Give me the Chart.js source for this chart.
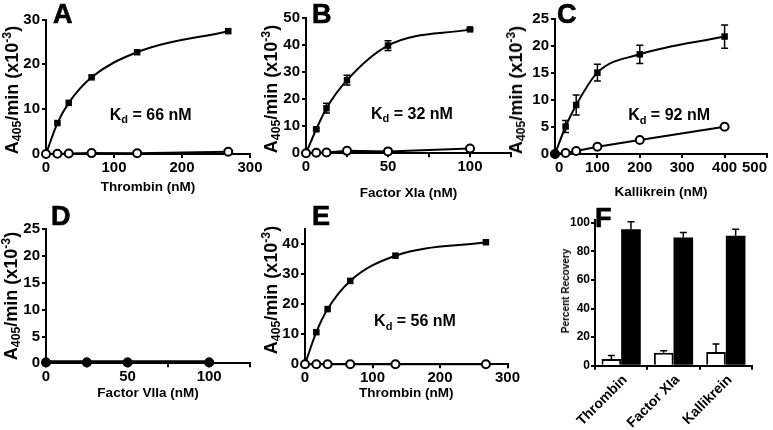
<!DOCTYPE html>
<html>
<head>
<meta charset="utf-8">
<script src="https://cdn.jsdelivr.net/npm/chart.js@4.4.1/dist/chart.umd.min.js"></script>
<style>
  body { margin: 0; background: #fff; }
  #fig { position: relative; width: 773px; height: 430px; background: #fff; overflow: hidden;
         font-family: 'Liberation Sans', Arial, sans-serif; font-weight: bold; color: #000; }
  #fig canvas { position: absolute; }
  .letter { position: absolute; font-size: 27px; line-height: 26px; -webkit-text-stroke: 0.7px #000; }
  .ytitle { position: absolute; font-size: 18px; white-space: nowrap;
            transform: translate(-50%, -50%) rotate(-90deg); line-height: 1; }
  .ytitle sub, .ytitle sup { font-size: 0.68em; }
  .ytitle sub { vertical-align: -0.25em; }
  .ytitle sup { vertical-align: 0.55em; }
</style>
</head>
<body>
<div id="fig">
  <canvas id="cA"></canvas>
  <canvas id="cB"></canvas>
  <canvas id="cC"></canvas>
  <canvas id="cD"></canvas>
  <canvas id="cE"></canvas>
  <canvas id="cF"></canvas>

  <div class="letter" style="left:53px;top:1px">A</div>
  <div class="letter" style="left:312px;top:1px">B</div>
  <div class="letter" style="left:557px;top:1px">C</div>
  <div class="letter" style="left:51px;top:203px">D</div>
  <div class="letter" style="left:312px;top:203px">E</div>
  <div class="letter" style="left:595px;top:205px">F</div>

  <div class="ytitle" style="left:12px;top:90px">A<sub>405</sub>/min (x10<sup>-3</sup>)</div>
  <div class="ytitle" style="left:271px;top:89px">A<sub>405</sub>/min (x10<sup>-3</sup>)</div>
  <div class="ytitle" style="left:516px;top:90px">A<sub>405</sub>/min (x10<sup>-3</sup>)</div>
  <div class="ytitle" style="left:11px;top:296px">A<sub>405</sub>/min (x10<sup>-3</sup>)</div>
  <div class="ytitle" style="left:271px;top:290px">A<sub>405</sub>/min (x10<sup>-3</sup>)</div>
  <div class="ytitle" style="left:566px;top:291px;font-size:10px">Percent Recovery</div>
</div>

<script>
// ---- data ----
// A: thrombin binding
const aConc = [0, 16.8, 33.5, 67, 134, 268];
const aBound = [0, 6.9, 11.4, 17.1, 22.7, 27.4];
const aControl = [0, 0.05, 0.1, 0.2, 0.15, 0.5];

// B: factor XIa binding
const bConc = [0, 6.25, 12.5, 25, 50, 100];
const bBound = [0, 8.9, 16.7, 27.1, 39.9, 45.9];
const bBoundErr = [0, 0.5, 1.8, 1.8, 1.8, 0.4];
const bControl = [0, 0.2, 0.3, 0.9, 0.7, 1.8];

// C: kallikrein binding
const cConc = [0, 25, 50, 100, 200, 400];
const cBound = [0, 5.1, 9.1, 15.1, 18.5, 21.8];
const cBoundErr = [0, 1.1, 1.85, 1.55, 1.7, 2.15];
const cControl = [0, 0.2, 0.55, 1.35, 2.6, 5.07];

// D: factor VIIa
const dConc = [0, 25, 50, 100];
const dBound = [0.3, 0.3, 0.3, 0.3];
const dControl = [0.15, 0.15, 0.15, 0.15];

// E: thrombin binding
const eConc = [0, 16.8, 33.5, 67, 134, 268];
const eBound = [0, 10.7, 18.4, 27.8, 36.2, 40.7];
const eControl = [0, 0, 0, 0, 0, 0];

// F: percent recovery
const fEnzymes = ['Thrombin', 'Factor XIa', 'Kallikrein'];
const fControl = [4.7, 9.1, 9.6];
const fControlErr = [2.5, 1.4, 5.6];
const fBound = [95.6, 89.8, 90.9];
const fBoundErr = [5.1, 3.5, 4.7];

Chart.defaults.font.family = "'Liberation Sans', Arial, sans-serif";
Chart.defaults.font.size = 15;
Chart.defaults.font.weight = 'bold';
Chart.defaults.color = '#000';

// error bars drawn through the y scale
const errorBars = {
  id: 'errorBars',
  afterDatasetsDraw(chart) {
    const ctx = chart.ctx;
    const ys = chart.scales.y;
    chart.data.datasets.forEach((ds, i) => {
      if (!ds.errors) return;
      const meta = chart.getDatasetMeta(i);
      ctx.save();
      ctx.strokeStyle = '#000';
      ctx.lineWidth = 1.5;
      meta.data.forEach((el, j) => {
        const e = ds.errors[j];
        if (!e) return;
        const d = ds.data[j];
        const v = typeof d === 'object' ? d.y : d;
        const top = ys.getPixelForValue(v + e);
        const bot = ds.upOnly ? ys.getPixelForValue(v) : ys.getPixelForValue(v - e);
        ctx.beginPath();
        ctx.moveTo(el.x, top); ctx.lineTo(el.x, bot);
        ctx.moveTo(el.x - 3.5, top); ctx.lineTo(el.x + 3.5, top);
        if (!ds.upOnly) { ctx.moveTo(el.x - 3.5, bot); ctx.lineTo(el.x + 3.5, bot); }
        ctx.stroke();
      });
      ctx.restore();
    });
  }
};

// "Kd = .. nM" label with subscript
const kdLabel = {
  id: 'kdLabel',
  afterDraw(chart, args, opts) {
    if (!opts.value) return;
    const ctx = chart.ctx;
    const px = chart.scales.x.getPixelForValue(opts.x);
    const py = chart.scales.y.getPixelForValue(opts.y);
    const big = "bold 16px 'Liberation Sans', Arial, sans-serif";
    const small = "bold 11px 'Liberation Sans', Arial, sans-serif";
    const rest = ' = ' + opts.value + ' nM';
    ctx.save();
    ctx.fillStyle = '#000';
    ctx.textBaseline = 'middle';
    ctx.textAlign = 'left';
    ctx.font = big;
    const wK = ctx.measureText('K').width;
    const wR = ctx.measureText(rest).width;
    ctx.font = small;
    const wd = ctx.measureText('d').width;
    let x = px - (wK + wd + wR) / 2;
    ctx.font = big;
    ctx.fillText('K', x, py);
    x += wK;
    ctx.font = small;
    ctx.fillText('d', x, py + 5);
    x += wd;
    ctx.font = big;
    ctx.fillText(rest, x, py);
    ctx.restore();
  }
};

function place(id, g) {
  const c = document.getElementById(id);
  c.width = g.w; c.height = g.h;
  c.style.left = g.left + 'px'; c.style.top = g.top + 'px';
  c.style.width = g.w + 'px'; c.style.height = g.h + 'px';
  return c;
}

function axisLook() {
  return {
    border: { display: true, color: '#000', width: 2 },
    grid: { drawOnChartArea: false, color: '#000', lineWidth: 2, tickLength: 4 }
  };
}

function linePanel(id, g, p) {
  const c = place(id, g);
  const lw = p.lineWidth || 2;
  const bound = {
    data: p.conc.map((x, i) => ({ x: x, y: p.bound[i] })),
    errors: p.boundErr,
    borderColor: '#000', backgroundColor: '#000', borderWidth: lw,
    pointStyle: p.boundStyle || 'rect', pointRadius: p.boundRadius || 4.6,
    pointBorderWidth: 0,
    cubicInterpolationMode: 'monotone', tension: 0.4,
    clip: false, order: p.boundOnTop ? 0 : 1
  };
  const control = {
    data: p.conc.map((x, i) => ({ x: x, y: p.control[i] })),
    borderColor: '#000', backgroundColor: '#fff', borderWidth: lw,
    pointStyle: 'circle', pointRadius: 4, pointBorderWidth: 2,
    tension: 0, clip: false, order: p.boundOnTop ? 1 : 0
  };
  new Chart(c, {
    type: 'line',
    data: { datasets: [bound, control] },
    options: {
      responsive: false, animation: false,
      layout: { padding: { top: g.padTop, right: g.padRight, left: 0, bottom: 0 } },
      plugins: { legend: { display: false }, tooltip: { enabled: false },
                 kdLabel: p.kd || {} },
      scales: {
        x: Object.assign(axisLook(), {
          type: 'linear', min: 0, max: p.xmax,
          ticks: { stepSize: p.xstep, autoSkip: false, maxRotation: 0, padding: 1,
                   align: p.xAlign || 'center',
                   callback: v => (p.xlabelEvery && v % p.xlabelEvery !== 0) ? '' : v },
          title: { display: true, text: p.xtitle, font: { size: 13.5, weight: 'bold' },
                   padding: 0 },
          afterFit: s => { s.height = g.xH; s.paddingLeft = 0; s.paddingRight = 0; }
        }),
        y: Object.assign(axisLook(), {
          type: 'linear', min: 0, max: p.ymax,
          ticks: { stepSize: p.ystep, includeBounds: false, padding: 2 },
          afterFit: s => { s.width = g.yW; s.paddingTop = 0; s.paddingBottom = 0; }
        })
      }
    },
    plugins: [errorBars, kdLabel]
  });
}

linePanel('cA', { left: 0, top: 0, w: 266, h: 195, yW: 46, xH: 41, padTop: 19.5, padRight: 16 }, {
  conc: aConc, bound: aBound, control: aControl,
  xmax: 300, xstep: 100, ymax: 30, ystep: 10, xtitle: 'Thrombin (nM)',
  kd: { value: 66, x: 154, y: 8.6 }
});

linePanel('cB', { left: 280, top: 0, w: 247, h: 201, yW: 26, xH: 47.7, padTop: 18.3, padRight: 16 }, {
  conc: bConc, bound: bBound, boundErr: bBoundErr, control: bControl,
  xmax: 125, xstep: 25, xlabelEvery: 50, ymax: 50, ystep: 10, xtitle: 'Factor XIa (nM)',
  kd: { value: 32, x: 64.6, y: 14.4 }
});

linePanel('cC', { left: 528, top: 0, w: 245, h: 200, yW: 27, xH: 46, padTop: 19.3, padRight: 6 }, {
  conc: cConc, bound: cBound, boundErr: cBoundErr, control: cControl, boundOnTop: true,
  boundStyle: c => (c.dataIndex === 0 ? 'circle' : 'rect'),
  xmax: 500, xstep: 100, ymax: 25, ystep: 5, xtitle: 'Kallikrein (nM)', xAlign: 'inner',
  kd: { value: 92, x: 269, y: 7.1 }
});

linePanel('cD', { left: 0, top: 210, w: 266, h: 191, yW: 46, xH: 37.7, padTop: 19.3, padRight: 16 }, {
  conc: dConc, bound: dBound, control: dControl, boundStyle: 'circle', boundRadius: 4.2,
  boundOnTop: true, lineWidth: 3,
  xmax: 125, xstep: 25, xlabelEvery: 50, ymax: 25, ystep: 5, xtitle: 'Factor VIIa (nM)'
});

linePanel('cE', { left: 280, top: 210, w: 245, h: 191, yW: 25, xH: 36.7, padTop: 19.3, padRight: 17.5 }, {
  conc: eConc, bound: eBound, control: eControl,
  xmax: 300, xstep: 100, ymax: 45, ystep: 10, xtitle: 'Thrombin (nM)',
  kd: { value: 56, x: 163, y: 14.2 }
});

// F: bar panel
(function () {
  const g = { left: 564, top: 205, w: 209, h: 225, yW: 31, xH: 64.3, padTop: 15, padRight: 21 };
  const c = place('cF', g);
  new Chart(c, {
    type: 'bar',
    data: {
      labels: fEnzymes,
      datasets: [
        { data: fControl, errors: fControlErr, upOnly: true,
          backgroundColor: '#fff', borderColor: '#000', borderWidth: 2, borderSkipped: 'bottom' },
        { data: fBound, errors: fBoundErr, upOnly: true,
          backgroundColor: '#000', borderColor: '#000', borderWidth: 0 }
      ]
    },
    options: {
      responsive: false, animation: false,
      categoryPercentage: 0.75, barPercentage: 1.0,
      layout: { padding: { top: g.padTop, right: g.padRight, left: 0, bottom: 0 } },
      plugins: { legend: { display: false }, tooltip: { enabled: false } },
      scales: {
        x: Object.assign(axisLook(), {
          ticks: { minRotation: 45, maxRotation: 45, autoSkip: false, padding: 2, labelOffset: 4,
                   font: { size: 14 } },
          afterFit: s => { s.height = g.xH; s.paddingLeft = 0; s.paddingRight = 0; }
        }),
        y: Object.assign(axisLook(), {
          min: 0, max: 102,
          ticks: { stepSize: 20, includeBounds: false, padding: 1, font: { size: 12 } },
          afterFit: s => { s.width = g.yW; s.paddingTop = 0; s.paddingBottom = 0; }
        })
      }
    },
    plugins: [errorBars]
  });
})();
</script>
</body>
</html>
